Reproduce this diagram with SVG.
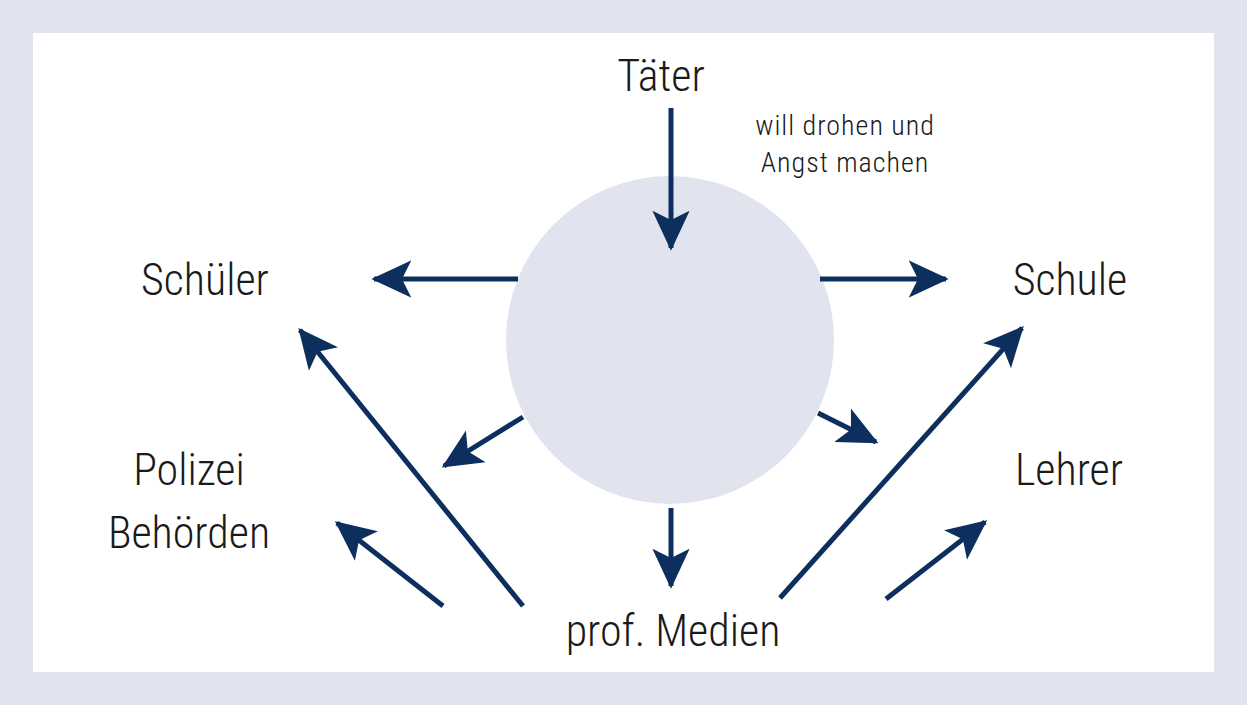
<svg xmlns="http://www.w3.org/2000/svg" width="1247" height="705" viewBox="0 0 1247 705">
<style>
.t{font-family:"Roboto","Liberation Sans",sans-serif;fill:#1a1a1a;text-anchor:middle;font-stretch:condensed;font-weight:300}
.b{font-size:44px}
.s{font-size:28px;letter-spacing:1px}
.c line{stroke:#0d2f5e;stroke-width:5;marker-end:url(#a)}
</style>
<defs><marker id="a" markerUnits="userSpaceOnUse" markerWidth="40" markerHeight="40" viewBox="0 0 30 28" refX="28" refY="14" orient="auto"><path d="M0,0 L30,14 L0,28 L7,14 Z" fill="#0d2f5e"/></marker></defs>
<rect width="1247" height="705" fill="#e1e4ef"/>
<rect x="33" y="33" width="1181" height="639" fill="#fff"/>
<g id="circle"><circle cx="670" cy="340" r="164" fill="#e1e4ef"/></g>
<g class="c" id="connectors">
<line x1="671" y1="108" x2="671" y2="248"/>
<line x1="518" y1="279" x2="374" y2="279"/>
<line x1="820" y1="279" x2="946" y2="279"/>
<line x1="523" y1="417" x2="444" y2="466"/>
<line x1="818" y1="413" x2="876" y2="442"/>
<line x1="671" y1="508" x2="671" y2="586"/>
<line x1="523" y1="606" x2="300" y2="330"/>
<line x1="780" y1="598" x2="1022" y2="328"/>
<line x1="443" y1="606" x2="337" y2="523"/>
<line x1="886" y1="599" x2="985" y2="522"/>
</g>
<g id="taeter"><text class="t b" x="661" y="91">Täter</text></g>
<g id="label"><text class="t s" x="845" y="135">will drohen und</text><text class="t s" x="845" y="172">Angst machen</text></g>
<g id="schueler"><text class="t b" x="205" y="295">Schüler</text></g>
<g id="schule"><text class="t b" x="1070" y="295">Schule</text></g>
<g id="polizei"><text class="t b" x="189" y="485">Polizei</text><text class="t b" x="189" y="548">Behörden</text></g>
<g id="lehrer"><text class="t b" x="1069" y="485">Lehrer</text></g>
<g id="medien"><text class="t b" x="673" y="646">prof. Medien</text></g>
</svg>
